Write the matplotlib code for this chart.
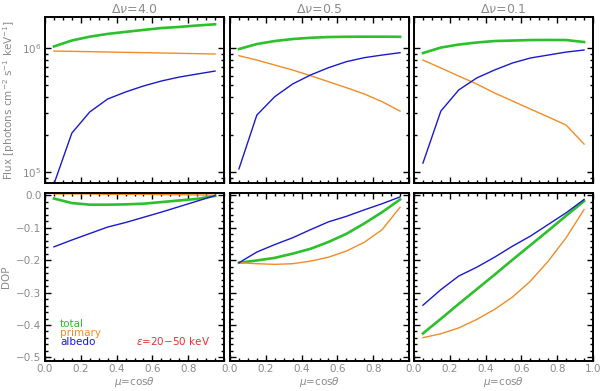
import numpy as np
import matplotlib
matplotlib.use("Agg")
import matplotlib.pyplot as plt
from matplotlib.ticker import MultipleLocator, LogLocator, NullFormatter, FixedLocator

mu = [0.05, 0.15, 0.25, 0.35, 0.45, 0.55, 0.65, 0.75, 0.85, 0.95]
dnu_labels = ["4.0", "0.5", "0.1"]

# flux, photons cm^-2 s^-1 keV^-1
flux_total = [
    [1.03e6, 1.15e6, 1.235e6, 1.30e6, 1.35e6, 1.40e6, 1.45e6, 1.48e6, 1.52e6, 1.555e6],
    [0.982e6, 1.077e6, 1.139e6, 1.182e6, 1.21e6, 1.227e6, 1.233e6, 1.235e6, 1.235e6, 1.232e6],
    [0.911e6, 1.009e6, 1.067e6, 1.108e6, 1.139e6, 1.149e6, 1.16e6, 1.162e6, 1.16e6, 1.118e6],
]
flux_primary = [
    [0.946e6, 0.940e6, 0.935e6, 0.929e6, 0.923e6, 0.918e6, 0.912e6, 0.906e6, 0.901e6, 0.895e6],
    [0.867e6, 0.800e6, 0.729e6, 0.665e6, 0.598e6, 0.535e6, 0.479e6, 0.426e6, 0.369e6, 0.310e6],
    [0.800e6, 0.690e6, 0.594e6, 0.513e6, 0.434e6, 0.374e6, 0.322e6, 0.278e6, 0.239e6, 0.168e6],
]
flux_albedo = [
    [0.080e6, 0.206e6, 0.305e6, 0.388e6, 0.442e6, 0.494e6, 0.542e6, 0.583e6, 0.617e6, 0.652e6],
    [0.106e6, 0.288e6, 0.405e6, 0.513e6, 0.606e6, 0.694e6, 0.776e6, 0.836e6, 0.878e6, 0.917e6],
    [0.118e6, 0.310e6, 0.459e6, 0.573e6, 0.665e6, 0.757e6, 0.831e6, 0.878e6, 0.928e6, 0.964e6],
]

dop_total = [
    [-0.010, -0.024, -0.029, -0.029, -0.028, -0.026, -0.021, -0.016, -0.011, -0.002],
    [-0.208, -0.201, -0.193, -0.180, -0.165, -0.144, -0.119, -0.087, -0.052, -0.013],
    [-0.426, -0.381, -0.335, -0.290, -0.245, -0.199, -0.154, -0.109, -0.063, -0.018],
]
dop_primary = [
    [0.004, 0.004, 0.004, 0.003, 0.003, 0.003, 0.002, 0.002, 0.001, 0.0],
    [-0.208, -0.211, -0.213, -0.211, -0.203, -0.191, -0.172, -0.145, -0.106, -0.037],
    [-0.439, -0.427, -0.409, -0.383, -0.352, -0.314, -0.265, -0.203, -0.131, -0.044],
]
dop_albedo = [
    [-0.159, -0.138, -0.118, -0.098, -0.084, -0.068, -0.052, -0.035, -0.018, -0.001],
    [-0.208, -0.175, -0.152, -0.131, -0.106, -0.082, -0.065, -0.045, -0.026, -0.005],
    [-0.339, -0.291, -0.249, -0.222, -0.191, -0.157, -0.126, -0.090, -0.054, -0.013],
]

c_total = "#2cc02c"
c_primary = "#f08c28"
c_albedo = "#1a1ac8"
c_text = "#8a8a8a"

plt.rcParams["font.family"] = "DejaVu Sans"
plt.rcParams["font.size"] = 7.5

fig = plt.figure(figsize=(6.0, 3.91), dpi=100)

lefts = [45 / 600, 230 / 600, 414 / 600]
w = 179 / 600
top_y0, top_h = 1 - 183 / 391, 166 / 391
bot_y0, bot_h = 1 - 361 / 391, 168 / 391


def style(ax):
    for s in ax.spines.values():
        s.set_linewidth(1.4)
        s.set_color("black")
    ax.tick_params(which="both", direction="in", top=True, right=True,
                   colors="black", labelcolor=c_text, width=1.0, pad=2.5)
    ax.tick_params(which="major", length=4)
    ax.tick_params(which="minor", length=2)


for i in range(3):
    # flux panel
    ax = fig.add_axes([lefts[i], top_y0, w, top_h])
    ax.plot(mu, flux_total[i], color=c_total, lw=1.9)
    ax.plot(mu, flux_primary[i], color=c_primary, lw=1.0)
    ax.plot(mu, flux_albedo[i], color=c_albedo, lw=1.0)
    ax.set_yscale("log")
    ax.set_xlim(0, 1)
    ax.set_ylim(8.15e4, 1.78e6)
    ax.xaxis.set_major_locator(MultipleLocator(0.2))
    ax.xaxis.set_minor_locator(MultipleLocator(0.05))
    ax.yaxis.set_major_locator(FixedLocator([1e5, 1e6]))
    ax.yaxis.set_minor_locator(LogLocator(base=10, subs=np.arange(2, 10)))
    ax.yaxis.set_minor_formatter(NullFormatter())
    ax.set_xticklabels([])
    style(ax)
    if i == 0:
        ax.set_ylabel(r"Flux [photons cm$^{-2}$ s$^{-1}$ keV$^{-1}$]",
                      color=c_text, fontsize=7.5, labelpad=4)
    else:
        ax.set_yticklabels([])
    ax.set_title(r"$\Delta\nu$=" + dnu_labels[i], color=c_text, fontsize=9, pad=3)

    # DOP panel
    ax = fig.add_axes([lefts[i], bot_y0, w, bot_h])
    ax.plot(mu, dop_total[i], color=c_total, lw=1.9)
    ax.plot(mu, dop_primary[i], color=c_primary, lw=1.0)
    ax.plot(mu, dop_albedo[i], color=c_albedo, lw=1.0)
    ax.set_xlim(0, 1)
    ax.set_ylim(-0.511, 0.007)
    ax.xaxis.set_major_locator(MultipleLocator(0.2))
    ax.xaxis.set_minor_locator(MultipleLocator(0.05))
    ax.yaxis.set_major_locator(MultipleLocator(0.1))
    ax.yaxis.set_minor_locator(MultipleLocator(0.02))
    style(ax)
    if i < 2:
        ax.set_xticks([0.0, 0.2, 0.4, 0.6, 0.8])
        ax.set_xticks(np.arange(0, 1.001, 0.05), minor=True)
    ax.xaxis.set_major_formatter(plt.FuncFormatter(lambda v, p: f"{v:.1f}"))
    ax.set_xlabel(r"$\mu$=cos$\theta$", color=c_text, fontsize=7.5, labelpad=0.5)
    if i == 0:
        ax.yaxis.set_major_formatter(plt.FuncFormatter(lambda v, p: f"{v:.1f}".replace("-", "\u2212")))
        ax.set_ylabel("DOP", color=c_text, fontsize=7.5, labelpad=4)
        ax.text(0.084, 0.20, "total", color=c_total, transform=ax.transAxes, fontsize=7.5)
        ax.text(0.084, 0.148, "primary", color=c_primary, transform=ax.transAxes, fontsize=7.5)
        ax.text(0.084, 0.095, "albedo", color=c_albedo, transform=ax.transAxes, fontsize=7.5)
        ax.text(0.92, 0.095, r"$\epsilon$=20$-$50 keV", color="#e83030",
                transform=ax.transAxes, fontsize=7.5, ha="right")
    else:
        ax.set_yticklabels([])

fig.savefig("out.png", dpi=100)
